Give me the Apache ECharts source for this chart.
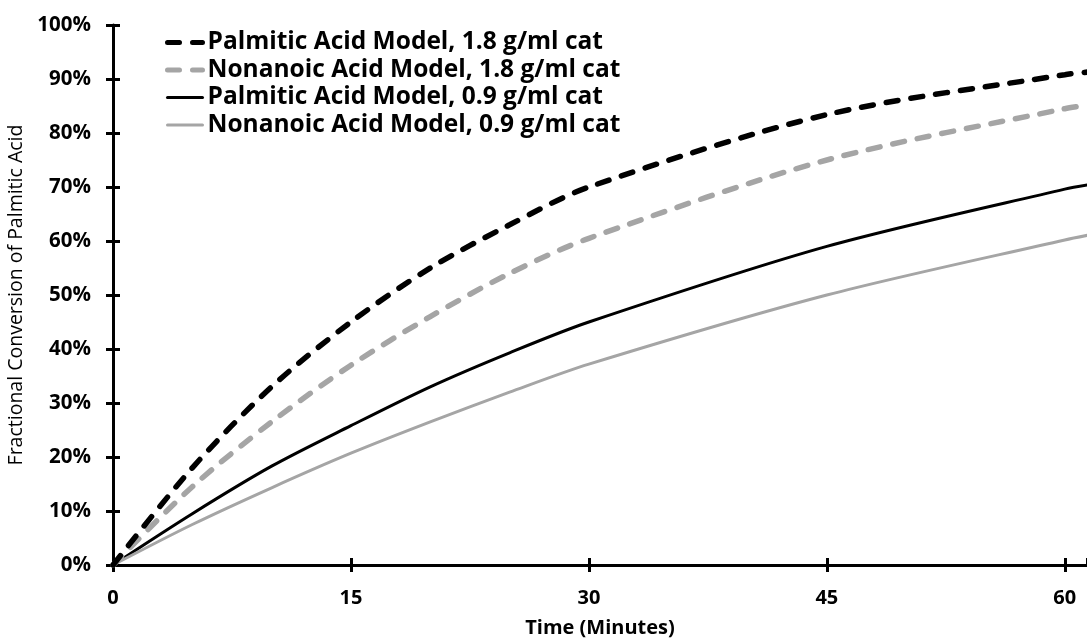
<!DOCTYPE html>
<html>
<head>
<meta charset="utf-8">
<script src="https://cdn.jsdelivr.net/npm/echarts@6/dist/echarts.min.js"></script>
<style>
html,body{margin:0;padding:0;background:#fff;}
#chart{width:1087px;height:638px;}
</style>
</head>
<body>
<div id="chart"></div>
<script>
// Time (minutes)
var times = [0, 5, 10, 15, 20, 25, 30, 45, 60, 61.5];
// Fractional conversion (%)
var palmitic18 = [0, 18, 33, 45, 55, 63, 70, 83.4, 90.8, 91.3];
var nonanoic18 = [0, 14.5, 26.5, 37, 46, 54, 60.5, 75, 84.5, 85.2];
var palmitic09 = [0, 9.5, 18.3, 25.8, 33, 39.3, 45, 59, 69.6, 70.4];
var nonanoic09 = [0, 7.5, 14.3, 20.7, 26.5, 32, 37.2, 50, 60.2, 61.1];
var seriesNames = [
  'Palmitic Acid Model, 1.8 g/ml cat',
  'Nonanoic Acid Model, 1.8 g/ml cat',
  'Palmitic Acid Model, 0.9 g/ml cat',
  'Nonanoic Acid Model, 0.9 g/ml cat'
];
var xTicks = [0, 15, 30, 45, 60];

function pairs(ys) { return times.map(function (t, i) { return [t, ys[i]]; }); }

var FONT = '"Open Sans", "Liberation Sans", sans-serif';
var GREY = '#A5A5A5';
var DASH = [12, 13];

var chart = echarts.init(document.getElementById('chart'));
var xCommon = { type: 'value', min: 0, max: 61.4, interval: 15 };
var yCommon = { type: 'value', min: 0, max: 100, interval: 10 };

function mk(name, data, color, width, dashed) {
  return {
    name: name, type: 'line', data: pairs(data), smooth: 0.3,
    symbol: 'none', showSymbol: false, xAxisIndex: 0, yAxisIndex: 0,
    clip: true,
    lineStyle: { color: color, width: width, type: dashed ? DASH : 'solid', cap: 'round' },
    itemStyle: { color: color },
    emphasis: { disabled: true }
  };
}
function legItem(name, color, width, dashed) {
  return {
    name: name,
    itemStyle: { opacity: 0, borderWidth: 0 },
    lineStyle: { color: color, width: width, type: dashed ? DASH : 'solid', cap: 'round', opacity: 1 }
  };
}

chart.setOption({
  animation: false,
  backgroundColor: '#fff',
  grid: { left: 113, right: 0, top: 25, bottom: 73, containLabel: false, outerBoundsMode: 'none' },
  legend: {
    data: [
      legItem(seriesNames[0], '#000', 5, true),
      legItem(seriesNames[1], GREY, 5, true),
      legItem(seriesNames[2], '#000', 3, false),
      legItem(seriesNames[3], GREY, 3, false)
    ],
    orient: 'vertical',
    left: 165, top: 30, padding: 0,
    itemWidth: 35, itemHeight: 14, itemGap: 2.5,
    itemStyle: { opacity: 0, borderWidth: 0 },
    textStyle: { fontFamily: FONT, fontWeight: 'bold', fontSize: 24.5, lineHeight: 24.5, color: '#000' }
  },
  xAxis: [
    Object.assign({}, xCommon, {
      name: 'Time (Minutes)', nameLocation: 'middle', nameGap: 53,
      nameTextStyle: { fontFamily: FONT, fontWeight: 'bold', fontSize: 20, color: '#000' },
      axisLine: { show: true, lineStyle: { color: '#000', width: 3 } },
      axisTick: { show: true, inside: false, length: 7, lineStyle: { color: '#000', width: 3 } },
      axisLabel: {
        margin: 23, fontFamily: FONT, fontWeight: 'bold', fontSize: 20, color: '#000',
        showMaxLabel: false,
        formatter: function (v) { return xTicks.indexOf(v) >= 0 ? String(v) : ''; }
      },
      splitLine: { show: false }
    }),
    Object.assign({}, xCommon, {
      position: 'bottom',
      axisLine: { show: false },
      axisTick: { show: true, inside: true, length: 7, lineStyle: { color: '#000', width: 3 } },
      axisLabel: { show: false }, splitLine: { show: false }
    })
  ],
  yAxis: [
    Object.assign({}, yCommon, {
      name: 'Fractional Conversion of Palmitic Acid', nameLocation: 'middle', nameGap: 83,
      nameRotate: 90,
      nameTextStyle: { fontFamily: FONT, fontSize: 19.5, color: '#000' },
      axisLine: { show: true, lineStyle: { color: '#000', width: 3 } },
      axisTick: { show: true, inside: false, length: 7, lineStyle: { color: '#000', width: 3 } },
      axisLabel: {
        margin: 22, fontFamily: FONT, fontWeight: 'bold', fontSize: 20.5, color: '#000',
        formatter: function (v) { return v + '%'; }
      },
      splitLine: { show: false }
    }),
    Object.assign({}, yCommon, {
      position: 'left',
      axisLine: { show: false },
      axisTick: { show: true, inside: true, length: 7, lineStyle: { color: '#000', width: 3 } },
      axisLabel: { show: false }, splitLine: { show: false }
    })
  ],
  series: [
    mk(seriesNames[2], palmitic09, '#000', 3, false),
    mk(seriesNames[3], nonanoic09, GREY, 3, false),
    mk(seriesNames[1], nonanoic18, GREY, 5.5, true),
    mk(seriesNames[0], palmitic18, '#000', 5.5, true)
  ]
});
</script>
</body>
</html>
